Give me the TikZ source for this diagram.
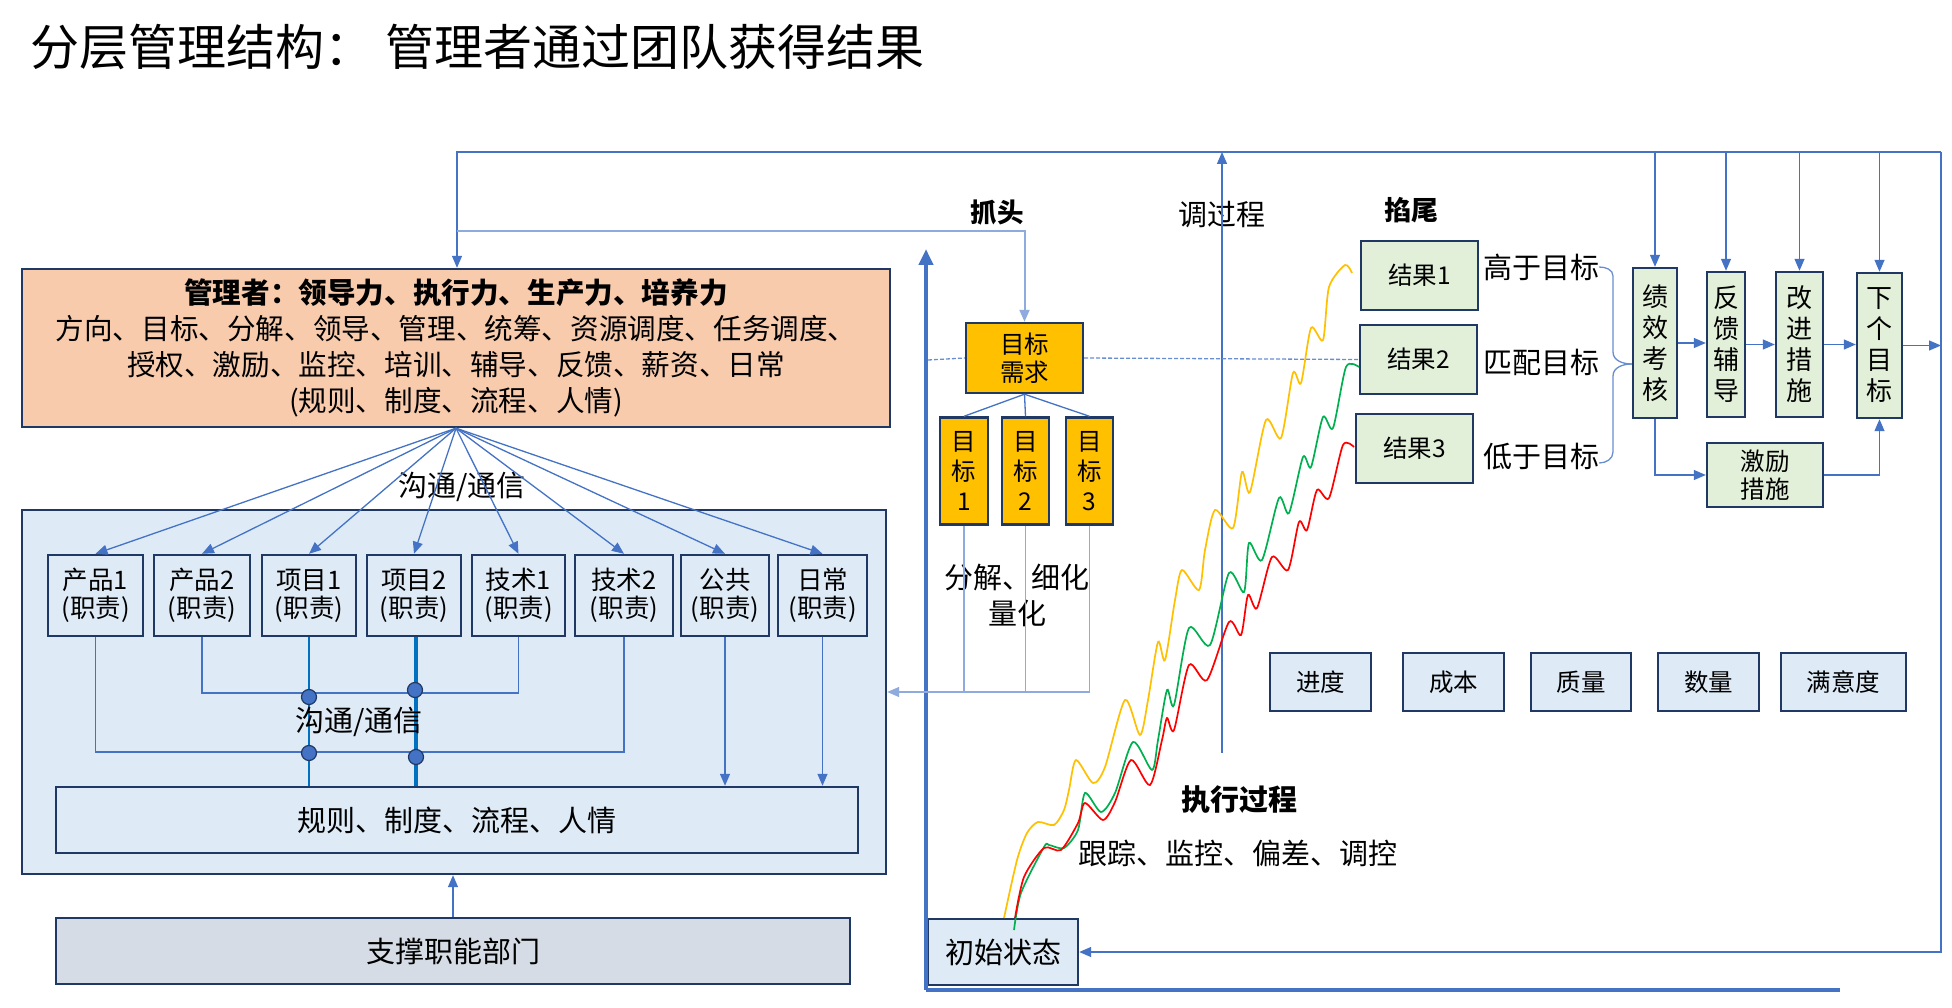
\documentclass[tikz,border=0pt]{standalone}
\usepackage{fontspec}
\setmainfont{Noto Sans CJK SC}
\usetikzlibrary{arrows.meta,calc}
\definecolor{dk}{HTML}{1F3864}
\definecolor{lnc}{HTML}{4472C4}
\definecolor{lnl}{HTML}{8FAADC}
\definecolor{mgrfill}{HTML}{F8CBAD}
\definecolor{lb}{HTML}{DEEBF7}
\definecolor{supfill}{HTML}{D6DCE5}
\definecolor{gold}{HTML}{FFC000}
\definecolor{gfill}{HTML}{E2F0D9}
\definecolor{xblue}{HTML}{0070C0}
\definecolor{cgreen}{HTML}{00B050}
\definecolor{cred}{HTML}{FF0000}
\newcommand\fz[2]{\fontsize{#1pt}{#2pt}\selectfont}
\begin{document}
\begin{tikzpicture}[x=1pt,y=-1pt,
  bx/.style={draw=dk,line width=2.4pt,inner sep=0pt,align=center,text=black},
  duty/.style={bx,fill=lb,minimum height=81pt,font=\fz{25.5}{28}},
  tgt/.style={bx,fill=gold,font=\fz{24.5}{30}},
  res/.style={bx,fill=gfill,font=\fz{24.5}{30}},
  vbox/.style={bx,fill=gfill,font=\fz{26}{31}},
  kpi/.style={bx,fill=lb,minimum height=58pt,font=\fz{24.5}{30}},
  lbl/.style={inner sep=0pt,align=center,font=\fz{29}{36}},
  ln/.style={draw=lnc,line width=1.3pt},
  lnlight/.style={draw=lnl,line width=2pt},
  arr/.style={ln,-{Triangle[length=12pt,width=10pt]}},
  arrl/.style={lnlight,-{Triangle[length=12pt,width=10pt]}},
  curve/.style={line width=1.7pt,smooth,tension=0.45},
  dot/.style={circle,draw=dk,line width=1.2pt,fill=lnc,minimum size=15pt,inner sep=0pt}]
\useasboundingbox (0,0) rectangle (1952,1008);
\fill[white] (0,0) rectangle (1952,1008);

% title
\node[anchor=west,inner sep=0pt,font=\fz{49}{58}] (title) at (30,47) {分层管理结构：\hspace{0.25em}管理者通过团队获得结果};

% left part
\node[bx,fill=mgrfill,minimum width=868pt,minimum height=158pt,font=\fz{28.6}{36}] (mgr) at (456,348)
  {\textbf{管理者：领导力、执行力、生产力、培养力}\\方向、目标、分解、领导、管理、统筹、资源调度、任务调度、\\授权、激励、监控、培训、辅导、反馈、薪资、日常\\(规则、制度、流程、人情)};
\node[bx,fill=lb,minimum width=864pt,minimum height=364pt] (cont) at (454,692) {};
\node[lbl] (comm1) at (462,487) {沟通/通信};
\node[duty,minimum width=95pt] (p1) at (95.5,595.5) {产品1\\(职责)};
\node[duty,minimum width=96pt] (p2) at (202,595.5) {产品2\\(职责)};
\node[duty,minimum width=94pt] (x1) at (309,595.5) {项目1\\(职责)};
\node[duty,minimum width=94pt] (x2) at (414,595.5) {项目2\\(职责)};
\node[duty,minimum width=93pt] (j1) at (518.5,595.5) {技术1\\(职责)};
\node[duty,minimum width=98pt] (j2) at (624,595.5) {技术2\\(职责)};
\node[duty,minimum width=88pt] (gg) at (725,595.5) {公共\\(职责)};
\node[duty,minimum width=89pt] (rc) at (822.5,595.5) {日常\\(职责)};
\node[bx,fill=lb,minimum width=802pt,minimum height=66pt,font=\fz{29}{34}] (rules) at (457,820) {规则、制度、流程、人情};
\node[bx,fill=supfill,minimum width=794pt,minimum height=66pt,font=\fz{29}{34}] (sup) at (453,951) {支撑职能部门};

% middle part
\node[tgt,minimum width=117pt,minimum height=70pt,font=\fz{24.5}{28}] (tq) at (1024.5,358) {目标\\需求};
\node[tgt,minimum width=48pt,minimum height=107pt] (t1) at (964,471) {目\\标\\1};
\node[tgt,minimum width=47pt,minimum height=107pt] (t2) at (1025.5,471) {目\\标\\2};
\node[tgt,minimum width=47pt,minimum height=107pt] (t3) at (1089.5,471) {目\\标\\3};
\node[bx,fill=lb,minimum width=150pt,minimum height=66pt,font=\fz{29}{34}] (init) at (1003,952) {初始状态};

\node[lbl,font=\fz{26.5}{32}\bfseries] (zt) at (997,213) {抓头};
\node[lbl] (tgc) at (1222,215) {调过程};
\node[lbl,font=\fz{27}{32}\bfseries] (qw) at (1411,210) {掐尾};
\node[lbl] (fj) at (1017,595) {分解、细化\\量化};
\node[lbl,font=\fz{29}{34}\bfseries] (zx) at (1239,800) {执行过程};
\node[lbl] (gz) at (1238,853) {跟踪、监控、偏差、调控};

% results
\node[res,minimum width=117pt,minimum height=69pt] (r1) at (1419.5,275.5) {结果1};
\node[res,minimum width=117pt,minimum height=69pt] (r2) at (1418.5,359.5) {结果2};
\node[res,minimum width=117pt,minimum height=69pt] (r3) at (1414.5,448.5) {结果3};
\node[lbl] (gy) at (1541,267) {高于目标};
\node[lbl] (pp) at (1541,362) {匹配目标};
\node[lbl] (dy) at (1541,457) {低于目标};

% right column
\node[vbox,minimum width=44pt,minimum height=150pt] (jx) at (1655,343) {绩\\效\\考\\核};
\node[vbox,minimum width=38pt,minimum height=145pt] (fk) at (1726,344.5) {反\\馈\\辅\\导};
\node[vbox,minimum width=47pt,minimum height=145pt] (gj) at (1799.5,344.5) {改\\进\\措\\施};
\node[vbox,minimum width=45pt,minimum height=145pt] (xg) at (1879.5,345.5) {下\\个\\目\\标};
\node[res,minimum width=116pt,minimum height=64pt,font=\fz{24.5}{28}] (jl) at (1765,475) {激励\\措施};

% KPI
\node[kpi,minimum width=101pt] (k1) at (1320.5,682) {进度};
\node[kpi,minimum width=101pt] (k2) at (1453.5,682) {成本};
\node[kpi,minimum width=100pt] (k3) at (1581,682) {质量};
\node[kpi,minimum width=101pt] (k4) at (1708.5,682) {数量};
\node[kpi,minimum width=125pt] (k5) at (1843.5,682) {满意度};

% coordinates
\coordinate (tl) at (457,152);
\coordinate (tr) at (1941,152);
\coordinate (br) at (1941,952);
\coordinate (tl2) at (457,231);
\coordinate (axb) at (926,990);
\coordinate (axt) at (926,249);
\coordinate (axr) at (1840,990);
\coordinate (tgb) at (1222,753);
\coordinate (dsh) at (928,360);
\coordinate (hA) at (0,693);
\coordinate (hB) at (0,752);

% top feedback loop
\draw[arr] (tr) -- (tl) -- (tl |- mgr.north);
\draw[arr] (tr) -- (br) -- (init.east);
\draw[arrl] (tl2) -| (tq.north);
\draw[arr] (jx.north |- tl) -- (jx.north);
\draw[arr] (fk.north |- tl) -- (fk.north);
\draw[arr] (gj.north |- tl) -- (gj.north);
\draw[arr] (xg.north |- tl) -- (xg.north);
\draw[arr] (tgb) -- (tgb |- tl);

% axis
\draw[draw=lnc,line width=4.5pt,-{Triangle[length=16pt,width=14pt]}] (axb) -- (axt);
\draw[draw=lnc,line width=4.5pt] (axb) -- (axr);

% dashed level line
\draw[draw=lnc!80,line width=1.3pt,dash pattern=on 4pt off 2pt] (dsh) -- (tq.west);
\draw[draw=lnc!80,line width=1.3pt,dash pattern=on 4pt off 2pt] (tq.east) -- (r2.west);

% goal decomposition
\draw[ln] (tq.south) -- (t1.north);
\draw[ln] (tq.south) -- (t2.north);
\draw[ln] (tq.south) -- (t3.north);
\draw[draw=lnl,line width=1.3pt] (t1.south) -- (t1.south |- cont.east);
\draw[draw=lnl,line width=1.3pt] (t2.south) -- (t2.south |- cont.east);
\draw[draw=lnl,line width=1.3pt,-{Triangle[length=12pt,width=10pt]}] (t3.south) |- (cont.east);

% fan from manager
\foreach \n in {p1,p2,x1,x2,j1,j2,gg,rc}
  \draw[arr] (mgr.south) -- (\n.north);

% inner communication
\draw[ln] (p2.south) -- (p2.south |- hA) -| (j1.south);
\draw[ln] (p1.south) -- (p1.south |- hB) -| (j2.south);
\draw[draw=xblue,line width=2.6pt] (x1.south) -- (x1.south |- rules.north);
\draw[draw=xblue,line width=4pt] (416,0 |- x2.south) -- (416,0 |- rules.north);
\node[dot] (d1) at (309,697) {};
\node[dot] (d2) at (415,690) {};
\node[dot] (d3) at (309,753) {};
\node[dot] (d4) at (416,757) {};
\node[lbl] (comm2) at (359,722) {沟通/通信};
\draw[arr] (gg.south) -- (gg.south |- rules.north);
\draw[arr] (rc.south) -- (rc.south |- rules.north);
\draw[arr] (sup.north) -- (sup.north |- cont.south);

% brace to performance review
\draw[ln,draw=lnc!80] (gy.east) to[out=0,in=90] (1613,276) -- (1613,352) to[out=-90,in=180] (jx.west |- 0,364);
\draw[ln,draw=lnc!80] (dy.east |- 0,463) to[out=0,in=-90] (1613,452) -- (1613,376) to[out=90,in=180] (jx.west |- 0,364);

% right chain
\draw[arr] (jx.east) -- (jx.east -| fk.west);
\draw[arr] (fk.east) -- (fk.east -| gj.west);
\draw[arr] (gj.east) -- (gj.east -| xg.west);
\draw[arr] (xg.east) -- (xg.east -| br);
\draw[arr] (jx.south) |- (jl.west);
\draw[arr] (jl.east) -| (xg.south);

% execution curves
\draw[gold,curve] plot coordinates {(1004,918) (1017,860) (1027,833) (1038,822) (1054,825) (1064,810) (1069,790) (1076,760) (1093,783) (1105,767) (1125,700) (1140,735) (1148,700) (1158,642) (1165,660) (1175,600) (1182,570) (1199,590) (1205,550) (1215,510) (1233,528) (1242,472) (1250,492) (1266,420) (1281,438) (1293,373) (1301,383) (1311,328) (1323,340) (1329,287) (1345,265) (1352,273)};
\draw[cgreen,curve] plot coordinates {(1014,930) (1021,893) (1044,847) (1049,845) (1064,848) (1078,830) (1085,793) (1101,812) (1115,793) (1133,742) (1152,770) (1158,740) (1167,690) (1174,705) (1189,628) (1210,645) (1229,573) (1244,592) (1249,543) (1262,560) (1279,498) (1289,513) (1303,457) (1311,467) (1323,417) (1333,428) (1346,367) (1359,367)};
\draw[cred,curve] plot coordinates {(1015,918) (1024,877) (1044,848) (1061,850) (1078,823) (1085,803) (1103,820) (1115,802) (1131,760) (1150,785) (1162,740) (1167,718) (1174,730) (1189,665) (1207,680) (1229,622) (1241,635) (1248,595) (1257,608) (1272,557) (1288,570) (1299,522) (1307,530) (1317,490) (1329,498) (1343,445) (1354,447)};
\end{tikzpicture}
\end{document}
